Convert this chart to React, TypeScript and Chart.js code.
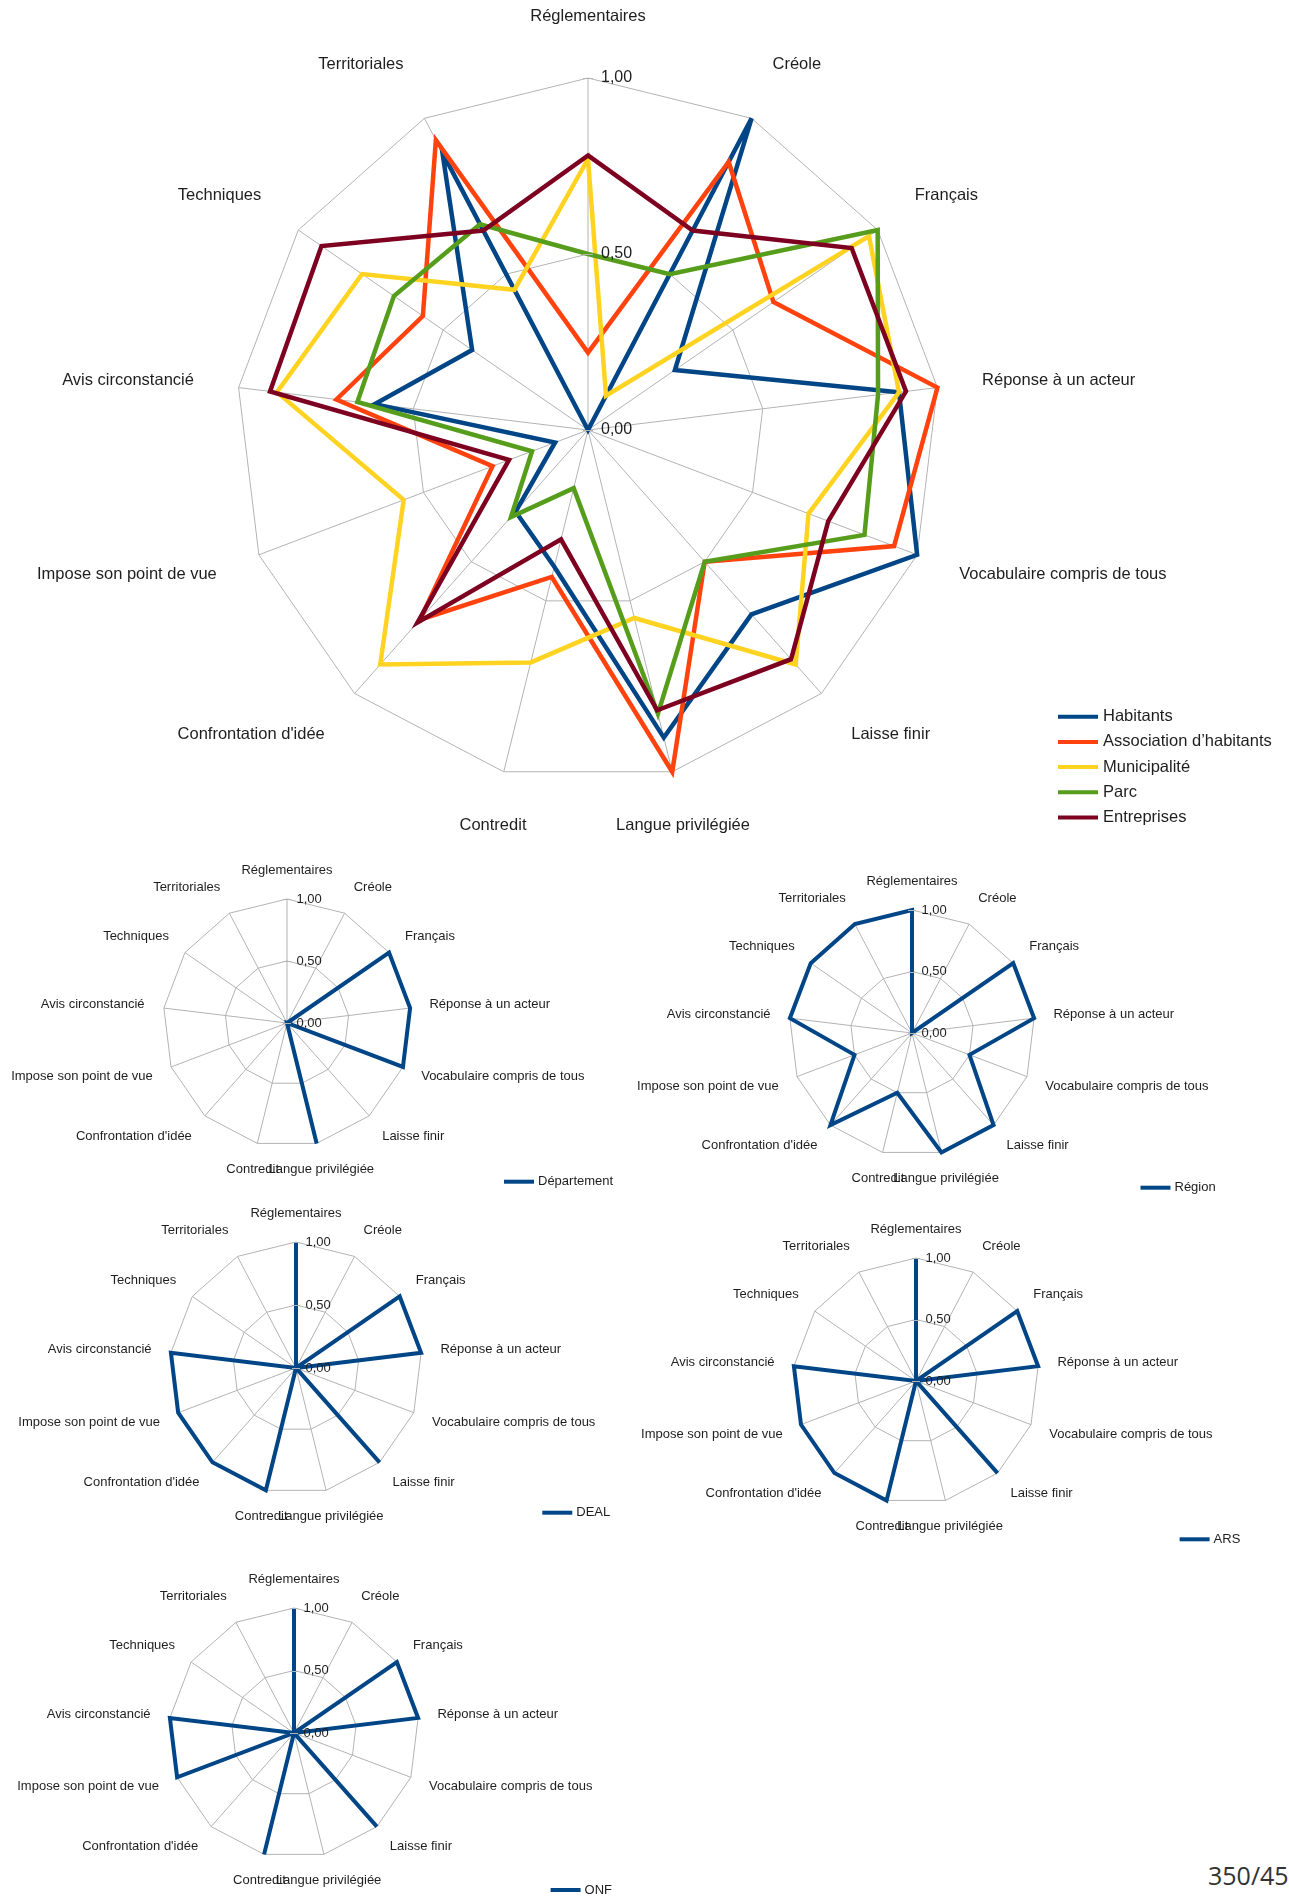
import React, { useEffect, useRef } from 'react';
import { Chart, registerables } from 'chart.js';

Chart.register(...registerables);

const FONT = '"Liberation Sans", Arial, sans-serif';
const TEXT_COLOR = '#1e1e1e';
const GRID_COLOR = '#b3b3b3';

// Axes of every radar, clockwise from the top
const categories = [
  'Réglementaires',
  'Créole',
  'Français',
  'Réponse à un acteur',
  'Vocabulaire compris de tous',
  'Laisse finir',
  'Langue privilégiée',
  'Contredit',
  "Confrontation d'idée",
  'Impose son point de vue',
  'Avis circonstancié',
  'Techniques',
  'Territoriales',
];

const scaleMin = 0;
const scaleMax = 1;
const scaleStep = 0.5;

// Main chart series
const habitants = [0, 1.0, 0.3, 0.89, 1.0, 0.7, 0.9, 0.4, 0.31, 0.1, 0.61, 0.4, 0.89];
const associationHabitants = [0.22, 0.86, 0.64, 1.0, 0.93, 0.5, 1.0, 0.43, 0.72, 0.29, 0.72, 0.57, 0.93];
const municipalite = [0.77, 0.11, 0.97, 0.89, 0.67, 0.89, 0.55, 0.68, 0.89, 0.56, 0.89, 0.78, 0.45];
const parc = [0.5, 0.5, 1.0, 0.83, 0.84, 0.5, 0.83, 0.17, 0.33, 0.17, 0.66, 0.67, 0.66];
const entreprises = [0.78, 0.64, 0.91, 0.91, 0.73, 0.87, 0.82, 0.32, 0.73, 0.24, 0.91, 0.92, 0.64];

// Single-actor charts
const departement = [0, 0, 1, 1, 1, 0, 1, 0, 0, 0, 0, 0, 0];
const region = [1, 0, 1, 1, 0.5, 1, 1, 0.5, 1, 0.5, 1, 1, 1];
const deal = [1, 0, 1, 1, 0, 1, 0, 1, 1, 1, 1, 0, 0];
const ars = [1, 0, 1, 1, 0, 1, 0, 1, 1, 1, 1, 0, 0];
const onf = [1, 0, 1, 1, 0, 1, 0, 1, 0, 1, 1, 0, 0];

const BLUE = '#004586';
const ORANGE = '#ff420e';
const YELLOW = '#ffd320';
const GREEN = '#579d1c';
const WINE = '#7e0021';

type Series = { label: string; values: number[]; color: string };

type Panel = {
  left: number;
  top: number;
  width: number;
  height: number;
  cx: number;
  cy: number;
  radius: number;
  lineWidth: number;
  labelSize: number;
  tickSize: number;
  labelGap: number;
  upExtra: number;
  downExtra: number;
  tickOffset: number;
  tickHalf: number;
  legendX: number;
  legendY: number;
  legendRow: number;
  legendLine: number;
  legendTextGap: number;
  legendSize: number;
};

const mainSeries: Series[] = [
  { label: 'Habitants', values: habitants, color: BLUE },
  { label: 'Association d’habitants', values: associationHabitants, color: ORANGE },
  { label: 'Municipalité', values: municipalite, color: YELLOW },
  { label: 'Parc', values: parc, color: GREEN },
  { label: 'Entreprises', values: entreprises, color: WINE },
];

const small = {
  lineWidth: 4,
  labelSize: 13,
  tickSize: 13,
  labelGap: 19.5,
  upExtra: 3,
  downExtra: 1,
  tickOffset: 9.5,
  tickHalf: 4,
  legendRow: 20,
  legendLine: 30,
  legendTextGap: 4,
  legendSize: 13,
};

const mainPanel: Panel = {
  left: 0, top: 0, width: 1289, height: 850,
  cx: 588.5, cy: 430, radius: 352,
  lineWidth: 4.5, labelSize: 16.5, tickSize: 16,
  labelGap: 45, upExtra: 8, downExtra: 2,
  tickOffset: 13, tickHalf: 5,
  legendX: 1058, legendY: 716.7, legendRow: 25.2, legendLine: 40, legendTextGap: 5, legendSize: 16.5,
};

const smallCharts: { series: Series; panel: Panel }[] = [
  {
    series: { label: 'Département', values: departement, color: BLUE },
    panel: { ...small, left: 0, top: 850, width: 620, height: 350, cx: 287, cy: 1023.5, radius: 124, legendX: 504, legendY: 1181.7 },
  },
  {
    series: { label: 'Région', values: region, color: BLUE },
    panel: { ...small, left: 600, top: 850, width: 689, height: 355, cx: 912.5, cy: 1033.5, radius: 123, legendX: 1140.5, legendY: 1187.7 },
  },
  {
    series: { label: 'DEAL', values: deal, color: BLUE },
    panel: { ...small, left: 0, top: 1200, width: 620, height: 340, cx: 296, cy: 1368, radius: 126, legendX: 542.3, legendY: 1512.7 },
  },
  {
    series: { label: 'ARS', values: ars, color: BLUE },
    panel: { ...small, left: 600, top: 1210, width: 689, height: 350, cx: 916.5, cy: 1381.5, radius: 123, legendX: 1179.6, legendY: 1539.3 },
  },
  {
    series: { label: 'ONF', values: onf, color: BLUE },
    panel: { ...small, left: 0, top: 1550, width: 620, height: 347, cx: 294, cy: 1733, radius: 125, legendX: 550.6, legendY: 1890 },
  },
];

// Category labels, value ticks on the first spoke and the line legend
const radarDecor = {
  id: 'radarDecor',
  afterDatasetsDraw(chart: any, _args: any, o: any) {
    const scale = chart.scales.r;
    const ctx: CanvasRenderingContext2D = chart.ctx;
    const labels: string[] = chart.data.labels;
    ctx.save();

    ctx.fillStyle = TEXT_COLOR;
    ctx.font = `${o.labelSize}px ${FONT}`;
    ctx.textAlign = 'center';
    ctx.textBaseline = 'middle';
    labels.forEach((text, i) => {
      const a = scale.getIndexAngle(i);
      const s = Math.sin(a);
      const c = Math.cos(a);
      const p = scale.getPointPosition(i, scale.drawingArea + o.labelGap);
      const w = ctx.measureText(text).width;
      const x = Math.abs(s) >= 0.3 ? p.x + Math.sign(s) * (w / 2) : p.x;
      const y = p.y - c * (o.labelSize / 2 + (c > 0 ? o.upExtra : o.downExtra));
      ctx.fillText(text, x, y);
    });

    ctx.font = `${o.tickSize}px ${FONT}`;
    ctx.textAlign = 'left';
    ctx.strokeStyle = GRID_COLOR;
    ctx.lineWidth = 1;
    scale.ticks.forEach((t: any) => {
      const y = scale.yCenter - scale.getDistanceFromCenterForValue(t.value);
      ctx.beginPath();
      ctx.moveTo(scale.xCenter - o.tickHalf, Math.round(y) + 0.5);
      ctx.lineTo(scale.xCenter + o.tickHalf, Math.round(y) + 0.5);
      ctx.stroke();
      ctx.fillText(t.label, scale.xCenter + o.tickOffset, y);
    });

    ctx.font = `${o.legendSize}px ${FONT}`;
    ctx.lineWidth = 4;
    ctx.lineCap = 'butt';
    chart.data.datasets.forEach((ds: any, i: number) => {
      const y = o.legendY + i * o.legendRow;
      ctx.strokeStyle = ds.borderColor;
      ctx.beginPath();
      ctx.moveTo(o.legendX, y);
      ctx.lineTo(o.legendX + o.legendLine, y);
      ctx.stroke();
      ctx.fillStyle = TEXT_COLOR;
      ctx.fillText(ds.label, o.legendX + o.legendLine + o.legendTextGap, y);
    });

    ctx.restore();
  },
};

function RadarPanel({ series, panel }: { series: Series[]; panel: Panel }) {
  const ref = useRef<HTMLCanvasElement | null>(null);

  useEffect(() => {
    if (!ref.current) return;
    const p = panel;
    const chart = new Chart(ref.current, {
      type: 'radar',
      data: {
        labels: categories,
        datasets: series.map((s, i) => ({
          label: s.label,
          data: s.values,
          borderColor: s.color,
          backgroundColor: s.color,
          borderWidth: p.lineWidth,
          fill: false,
          pointRadius: 0,
          pointHoverRadius: 0,
          tension: 0,
          borderJoinStyle: 'miter' as const,
          order: series.length - 1 - i,
        })),
      },
      options: {
        responsive: false,
        animation: false,
        devicePixelRatio: 1,
        events: [],
        layout: {
          padding: {
            left: p.cx - p.left - p.radius,
            right: p.left + p.width - (p.cx + p.radius),
            top: p.cy - p.top - p.radius,
            bottom: p.top + p.height - (p.cy + p.radius),
          },
        },
        plugins: {
          legend: { display: false },
          tooltip: { enabled: false },
          radarDecor: {
            labelSize: p.labelSize,
            tickSize: p.tickSize,
            labelGap: p.labelGap,
            upExtra: p.upExtra,
            downExtra: p.downExtra,
            tickOffset: p.tickOffset,
            tickHalf: p.tickHalf,
            legendX: p.legendX - p.left,
            legendY: p.legendY - p.top,
            legendRow: p.legendRow,
            legendLine: p.legendLine,
            legendTextGap: p.legendTextGap,
            legendSize: p.legendSize,
          },
        } as any,
        scales: {
          r: {
            min: scaleMin,
            max: scaleMax,
            beginAtZero: true,
            ticks: {
              display: false,
              stepSize: scaleStep,
              callback: (v: any) => Number(v).toFixed(2).replace('.', ','),
            },
            pointLabels: { display: false },
            grid: { color: GRID_COLOR, lineWidth: 1 },
            angleLines: { color: GRID_COLOR, lineWidth: 1 },
          },
        },
      },
      plugins: [radarDecor],
    });
    return () => chart.destroy();
  }, [series, panel]);

  return (
    <canvas
      ref={ref}
      width={panel.width}
      height={panel.height}
      style={{ position: 'absolute', left: panel.left, top: panel.top, width: panel.width, height: panel.height }}
    />
  );
}

export default function App() {
  return (
    <div
      style={{
        position: 'absolute',
        left: 0,
        top: 0,
        width: 1289,
        height: 1897,
        overflow: 'hidden',
        background: '#ffffff',
      }}
    >
      <RadarPanel series={mainSeries} panel={mainPanel} />
      {smallCharts.map((c) => (
        <RadarPanel key={c.series.label} series={[c.series]} panel={c.panel} />
      ))}
      <span
        style={{
          position: 'absolute',
          left: 1208,
          top: 1863,
          fontFamily: '"Open Sans", sans-serif',
          fontSize: 25,
          lineHeight: '25px',
          color: '#333333',
          whiteSpace: 'nowrap',
        }}
      >
        350/45
      </span>
    </div>
  );
}
